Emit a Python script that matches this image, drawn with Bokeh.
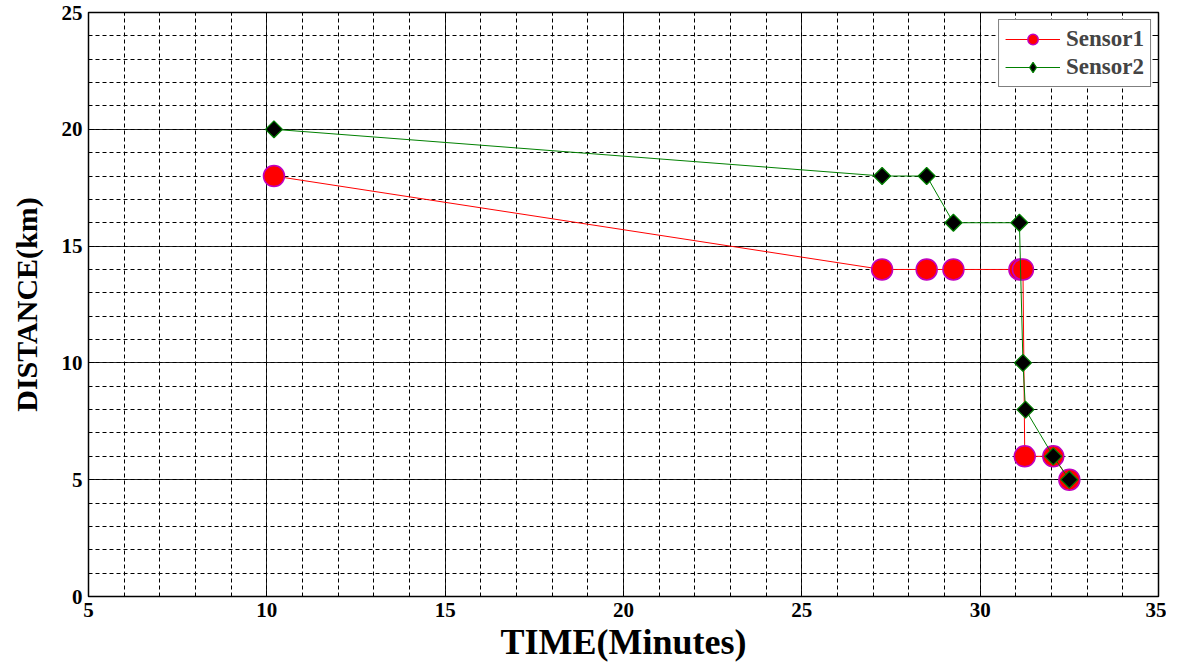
import numpy as np
from bokeh.plotting import figure
from bokeh.models import SingleIntervalTicker, LinearAxis, Range1d, Legend, LegendItem
from bokeh.embed import file_html
from bokeh.resources import INLINE

s1_time = [10.2, 27.25, 28.5, 29.25, 31.1, 31.2, 31.25, 32.05, 32.5]
s1_dist = [18, 14, 14, 14, 14, 14, 6, 6, 5]
s2_time = [10.2, 27.25, 28.5, 29.25, 31.1, 31.2, 31.27, 32.05, 32.5]
s2_dist = [20, 18, 18, 16, 16, 10, 8, 6, 5]
x_ticks = [5, 10, 15, 20, 25, 30, 35]
y_ticks = [0, 5, 10, 15, 20, 25]

FONT = "Liberation Serif"

p = figure(width=1166, height=660, output_backend="svg", toolbar_location=None,
           x_range=Range1d(5, 35), y_range=Range1d(0, 25),
           min_border_left=88, min_border_right=8, min_border_top=12, min_border_bottom=64,
           x_axis_label="TIME(Minutes)", y_axis_label="DISTANCE(km)")
p.frame_width = 1070
p.frame_height = 584

xt = SingleIntervalTicker(interval=5, num_minor_ticks=5)
yt = SingleIntervalTicker(interval=5, num_minor_ticks=5)
p.xaxis.ticker = xt
p.yaxis.ticker = yt

for ax in [p.xaxis[0], p.yaxis[0]]:
    ax.major_label_text_font = FONT
    ax.major_label_text_font_style = "bold"
    ax.major_label_text_font_size = "21px"
    ax.major_label_text_color = "black"
    ax.axis_label_text_font = FONT
    ax.axis_label_text_font_style = "bold"
    ax.axis_label_text_color = "black"
    ax.axis_line_color = "black"
    ax.major_tick_in = 6
    ax.major_tick_out = 0
    ax.minor_tick_in = 3
    ax.minor_tick_out = 0
    ax.major_tick_line_color = "black"
    ax.minor_tick_line_color = "black"
p.xaxis.axis_label_text_font_size = "36px"
p.yaxis.axis_label_text_font_size = "30px"
p.xaxis.major_label_standoff = 6
p.yaxis.major_label_standoff = 6
p.xaxis.axis_label_standoff = 2
p.yaxis.axis_label_standoff = 16

for loc, tk in [("above", xt), ("right", yt)]:
    ax = LinearAxis(ticker=tk, axis_line_color="black",
                    major_tick_in=6, major_tick_out=0, minor_tick_in=3, minor_tick_out=0,
                    major_tick_line_color="black", minor_tick_line_color="black",
                    major_label_standoff=0, major_label_text_alpha=0,
                    major_label_text_font_size="1px")
    p.add_layout(ax, loc)

p.xgrid.grid_line_color = "black"
p.ygrid.grid_line_color = "black"
p.xgrid.grid_line_alpha = 0.85
p.ygrid.grid_line_alpha = 0.85
p.xgrid.minor_grid_line_color = "black"
p.ygrid.minor_grid_line_color = "black"
p.xgrid.minor_grid_line_dash = "4 3"
p.ygrid.minor_grid_line_dash = "4 3"
p.outline_line_color = "black"
p.outline_line_width = 1.5

l1 = p.line(s1_time, s1_dist, line_color="#ff0000", line_width=1)
m1 = p.scatter(s1_time, s1_dist, marker="circle", size=21, fill_color="#ff0000",
               line_color="#c000c0", line_width=1.5)
l2 = p.line(s2_time, s2_dist, line_color="#008000", line_width=1)
m2 = p.scatter(s2_time, s2_dist, marker="square", angle=np.pi / 4, size=12,
               fill_color="black", line_color="#008000", line_width=1.2)

# legend-only diamond, placed outside the fixed ranges so it is not drawn in the plot
lg2 = p.scatter([-100], [-100], marker="diamond", size=22, fill_color="black",
                line_color="#008000", line_width=1.2)

legend = Legend(items=[LegendItem(label="Sensor1", renderers=[l1, m1]),
                       LegendItem(label="Sensor2", renderers=[l2, lg2])],
                location="top_right")
legend.label_text_font = FONT
legend.label_text_font_style = "bold"
legend.label_text_font_size = "23px"
legend.glyph_width = 55
legend.glyph_height = 26
legend.spacing = 2
legend.padding = 6
legend.margin = 7
legend.label_standoff = 6
legend.border_line_color = "black"
legend.border_line_width = 1.5
legend.background_fill_alpha = 1
p.add_layout(legend)

open("out.html", "w").write(file_html(p, INLINE))
